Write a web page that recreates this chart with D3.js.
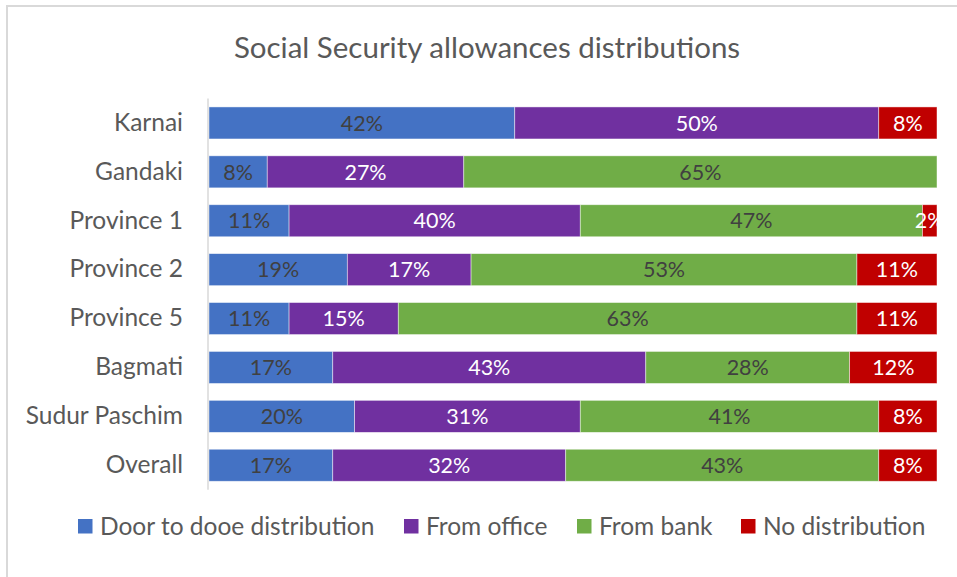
<!DOCTYPE html>
<html>
<head>
<meta charset="utf-8">
<script src="https://cdn.jsdelivr.net/npm/d3@7"></script>
<style>
  html, body { margin: 0; padding: 0; background: #fff; }
  svg { display: block; font-family: Lato, "Open Sans", sans-serif; }
</style>
</head>
<body>
<svg id="chart" width="957" height="577"></svg>
<script>
// Regions, top to bottom
const categories = ["Karnai", "Gandaki", "Province 1", "Province 2", "Province 5", "Bagmati", "Sudur Paschim", "Overall"];

// Share of each distribution channel (%)
const doorToDoor   = [42,  8, 11, 19, 11, 17, 20, 17];
const fromOffice   = [50, 27, 40, 17, 15, 43, 31, 32];
const fromBank     = [ 0, 65, 47, 53, 63, 28, 41, 43];
const noDistrib    = [ 8,  0,  2, 11, 11, 12,  8,  8];

const seriesNames  = ["Door to dooe distribution", "From office", "From bank", "No distribution"];
const seriesColors = ["#4472c4", "#7030a0", "#70ad47", "#c00000"];
const labelColors  = ["#404040", "#ffffff", "#404040", "#ffffff"];

const title = "Social Security allowances distributions";

const seriesValues = [doorToDoor, fromOffice, fromBank, noDistrib];
const rows = categories.map((c, i) => {
  const r = { category: c };
  seriesNames.forEach((s, k) => { r[s] = seriesValues[k][i]; });
  return r;
});
const stacked = d3.stack().keys(seriesNames)(rows);

const svg = d3.select("#chart");

// chart frame
svg.append("path")
  .attr("d", "M7,577 V6 H957")
  .attr("fill", "none")
  .attr("stroke", "#d9d9d9")
  .attr("stroke-width", 2);

const plot = { left: 209, right: 937, top: 98.5, bottom: 489.7 };

const x = d3.scaleLinear().domain([0, 100]).range([plot.left, plot.right]);
const y = d3.scaleBand().domain(categories).range([plot.top, plot.bottom]).paddingInner(0.345).paddingOuter(0.1725);

svg.append("text")
  .attr("x", 487).attr("y", 58)
  .attr("text-anchor", "middle")
  .attr("fill", "#595959")
  .attr("font-size", 29.5)
  .text(title);

svg.append("defs").append("clipPath").attr("id", "plotClip")
  .append("rect")
  .attr("x", plot.left).attr("y", plot.top)
  .attr("width", plot.right - plot.left).attr("height", plot.bottom - plot.top);

const layers = svg.append("g").selectAll("g")
  .data(stacked)
  .join("g")
  .attr("fill", (d, i) => seriesColors[i]);

layers.selectAll("rect")
  .data(d => d.filter(p => p[1] - p[0] > 0))
  .join("rect")
  .attr("x", p => x(p[0]))
  .attr("y", p => y(p.data.category))
  .attr("width", p => x(p[1]) - x(p[0]))
  .attr("height", y.bandwidth())
  .attr("stroke", "#ffffff")
  .attr("stroke-opacity", 0.6)
  .attr("stroke-width", 0.75);

// value labels, clipped to the plot area
const labels = svg.append("g").attr("clip-path", "url(#plotClip)");
stacked.forEach((layer, i) => {
  labels.selectAll(null)
    .data(layer.filter(p => p[1] - p[0] > 0))
    .join("text")
    .attr("x", p => x((p[0] + p[1]) / 2))
    .attr("y", p => y(p.data.category) + y.bandwidth() / 2)
    .attr("dy", "0.36em")
    .attr("text-anchor", "middle")
    .attr("fill", labelColors[i])
    .attr("font-size", 21.5)
    .text(p => (p[1] - p[0]) + "%");
});

// category axis
const yAxis = svg.append("g")
  .attr("transform", `translate(${plot.left - 1},0)`)
  .call(d3.axisLeft(y).tickSize(0).tickPadding(25));
yAxis.select(".domain").attr("stroke", "#d9d9d9").attr("stroke-width", 1.5)
  .attr("d", `M0,${plot.top}V${plot.bottom}`);
yAxis.selectAll("text")
  .attr("fill", "#595959")
  .attr("font-size", 24.5)
  .attr("font-family", "Lato, 'Open Sans', sans-serif");

// legend
const legendX = [78, 404, 577, 741];
const legend = svg.append("g").selectAll("g")
  .data(seriesNames)
  .join("g")
  .attr("transform", (d, i) => `translate(${legendX[i]},519)`);
legend.append("rect")
  .attr("width", 14.5).attr("height", 14.5)
  .attr("fill", (d, i) => seriesColors[i]);
legend.append("text")
  .attr("x", 22).attr("y", 7.5).attr("dy", "0.36em")
  .attr("fill", "#595959")
  .attr("font-size", 24.5)
  .text(d => d);
</script>
</body>
</html>
